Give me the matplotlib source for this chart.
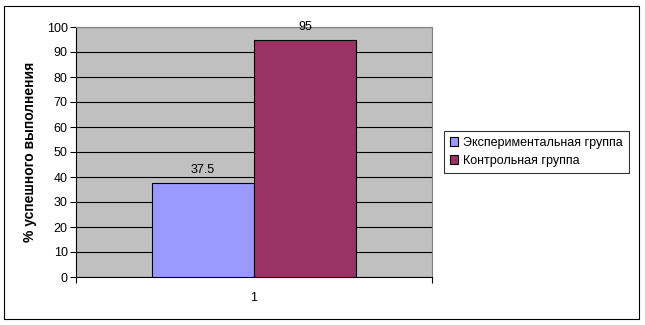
import matplotlib.pyplot as plt
from matplotlib.patches import Rectangle

# data
groups = ['Экспериментальная группа', 'Контрольная группа']
values = [37.5, 95]
colors = ['#9999FF', '#993366']
category = [1]
yticks = list(range(0, 101, 10))

plt.rcParams['font.family'] = ['Liberation Sans', 'DejaVu Sans']
FS = 9

W, H = 645, 325
fig = plt.figure(figsize=(W / 100, H / 100), dpi=100)

# plot area in pixels: x 76..432, y 27..277
ax = fig.add_axes([76 / W, (H - 277) / H, (432 - 76) / W, (277 - 27) / H])
ax.set_facecolor('#C0C0C0')

bw = 102 / 356  # bar width in axis units (xlim spans 1.0)
offsets = [-bw / 2, bw / 2]
for g, v, c, off in zip(groups, values, colors, offsets):
    x = category[0] + off
    ax.bar(x, v, width=bw, color=c, edgecolor='black', linewidth=0.8, label=g, zorder=3)
    ax.annotate(f'{v:g}', (x, v), xytext=(0, 5), textcoords='offset points',
                ha='center', va='bottom', fontsize=FS, zorder=4, annotation_clip=False)

ax.set_xlim(0.5, 1.5)
ax.set_ylim(0, 100)
ax.set_yticks(yticks)
ax.yaxis.grid(True, color='black', linewidth=0.8, zorder=1)
ax.set_axisbelow(True)

ax.set_xticks(category)
ax.set_xticklabels([str(c) for c in category])
ax.tick_params(axis='x', length=0, pad=11, labelsize=FS)
ax.set_xticks([0.5, 1.5], minor=True)
ax.tick_params(axis='x', which='minor', length=4, width=0.8, direction='out')
ax.tick_params(axis='y', length=4, width=0.8, direction='out', labelsize=FS, pad=2)

for s in ['top', 'right']:
    ax.spines[s].set_color('#808080')
    ax.spines[s].set_linewidth(0.8)
for s in ['left', 'bottom']:
    ax.spines[s].set_color('black')
    ax.spines[s].set_linewidth(0.8)

ax.set_ylabel('% успешного выполнения', fontsize=10, fontweight='bold', labelpad=7)

leg = ax.legend(loc='center left', bbox_to_anchor=(444 / W, 1 - 152 / H),
                bbox_transform=fig.transFigure, fontsize=FS, frameon=True,
                fancybox=False, edgecolor='black', handlelength=0.7, handleheight=0.7,
                handletextpad=0.4, borderpad=0.45, labelspacing=0.5, borderaxespad=0)
leg.get_frame().set_linewidth(0.8)

# outer chart border
fig.patches.append(Rectangle((4 / W, 6 / H), 635 / W, 313 / H, transform=fig.transFigure,
                             fill=False, edgecolor='black', linewidth=0.8))

fig.savefig('out.png', dpi=100)
